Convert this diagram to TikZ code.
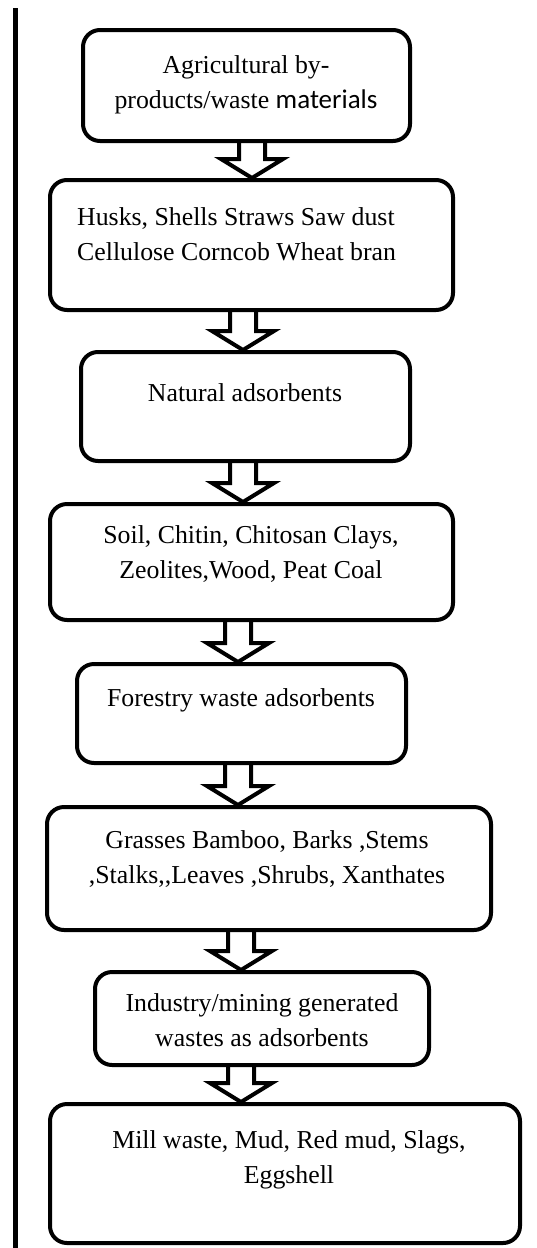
\documentclass[tikz,border=0pt]{standalone}
\usepackage{fontspec}
\setmainfont{Liberation Serif}
\newfontfamily\calibrifont{Carlito}
\usetikzlibrary{calc}

% hollow block arrow between two boxes, on a given column
\newcommand{\flowarrow}[3]{%
  \draw[blockarrow] ($(#3 |- #1.south)+(-13,0)$) -- ($(#3 |- #2.north)+(-13,-19)$)
    -- ++(-18,0) -- (#3 |- #2.north) -- ($(#3 |- #2.north)+(31,-19)$)
    -- ++(-18,0) -- ($(#3 |- #1.south)+(13,0)$);}

\begin{document}
\begin{tikzpicture}[x=1pt,y=-1pt,
  box/.style={draw,line width=4pt,rounded corners=17pt,inner sep=0pt},
  txt/.style={font=\fontsize{25.8}{35}\selectfont,align=center,inner sep=0pt},
  blockarrow/.style={line width=4pt,line join=miter}]
\useasboundingbox (0,0) rectangle (537,1248);
\draw[line width=5pt] (15.5,8) -- (15.5,1248);
% boxes
\node[box,minimum width=327,minimum height=111] (agri) at (246.5,85.5) {};
\node[box,minimum width=403,minimum height=130] (husks) at (251.5,245) {};
\node[box,minimum width=329,minimum height=109] (natural) at (245.5,406.5) {};
\node[box,minimum width=403,minimum height=116] (soil) at (251.5,562) {};
\node[box,minimum width=329,minimum height=99] (forest) at (241.5,713.5) {};
\node[box,minimum width=444,minimum height=123] (grass) at (269,868.5) {};
\node[box,minimum width=334,minimum height=93] (industry) at (262,1018.5) {};
\node[box,minimum width=470,minimum height=139] (mill) at (285,1173.5) {};
% texts
\node[txt] (agritext) at (246,85) {Agricultural by-\\products/waste {\calibrifont\fontsize{27}{35}\selectfont materials}};
\node[txt,align=left,anchor=west] (huskstext) at (77,234.5) {Husks, Shells Straws Saw dust\\Cellulose Corncob Wheat bran};
\node[txt] (naturaltext) at (245,393) {Natural adsorbents};
\node[txt] (soiltext) at (251,554.5) {Soil, Chitin, Chitosan Clays,\\Zeolites,Wood, Peat Coal};
\node[txt] (foresttext) at (241,700) {Forestry waste adsorbents};
\node[txt] (grasstext) at (267,859.5) {Grasses Bamboo, Barks ,Stems\\,Stalks,{},Leaves ,Shrubs, Xanthates};
\node[txt] (industrytext) at (262,1020) {Industry/mining generated\\wastes as adsorbents};
\node[txt] (milltext) at (289,1160) {Mill waste, Mud, Red mud, Slags,\\Eggshell};
% arrows
\coordinate (colA) at (252,0);
\coordinate (colB) at (243,0);
\coordinate (colC) at (238,0);
\coordinate (colD) at (241,0);
\flowarrow{agri}{husks}{colA}
\flowarrow{husks}{natural}{colB}
\flowarrow{natural}{soil}{colB}
\flowarrow{soil}{forest}{colC}
\flowarrow{forest}{grass}{colC}
\flowarrow{grass}{industry}{colD}
\flowarrow{industry}{mill}{colD}
\end{tikzpicture}
\end{document}
